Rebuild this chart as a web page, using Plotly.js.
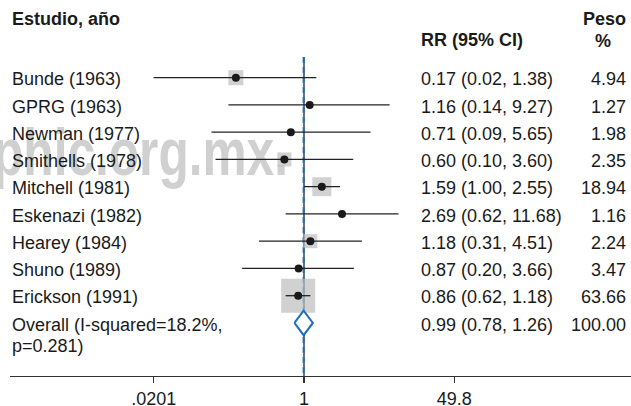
<!DOCTYPE html>
<html>
<head>
<meta charset="utf-8">
<script src="https://cdn.plot.ly/plotly-3.0.1.min.js"></script>
<style>html,body{margin:0;padding:0;background:#fff;}#chart{width:631px;height:406px;}</style>
</head>
<body>
<div id="chart"></div>
<script>
// ---- data ----
const studies = ["Bunde (1963)", "GPRG (1963)", "Newman (1977)", "Smithells (1978)", "Mitchell (1981)",
                 "Eskenazi (1982)", "Hearey (1984)", "Shuno (1989)", "Erickson (1991)"];
const rr      = [0.17, 1.16, 0.71, 0.60, 1.59, 2.69, 1.18, 0.87, 0.86];
const ciLow   = [0.02, 0.14, 0.09, 0.10, 1.00, 0.62, 0.31, 0.20, 0.62];
const ciHigh  = [1.38, 9.27, 5.65, 3.60, 2.55, 11.68, 4.51, 3.66, 1.18];
const weights = [4.94, 1.27, 1.98, 2.35, 18.94, 1.16, 2.24, 3.47, 63.66];
const overallRR = 0.99, overallLow = 0.78, overallHigh = 1.26, overallWeight = 100.00;
const overallLabel = ["Overall (I-squared=18.2%,", "p=0.281)"];
const tickVals = [0.0201, 1, 49.8];
const tickText = [".0201", "1", "49.8"];
const headers = {study: "Estudio, año", ci: "RR (95% CI)", weight1: "Peso", weight2: "%"};
const watermark = "phic.org.mx.";

// ---- style ----
const boxPx = [15, 0, 0, 14, 19, 0, 14, 0, 34];   // drawn box sizes (px)
const txt = "#1a1a1a";
const blue = "#1b6fc0";
const font = "Liberation Sans, Arial, sans-serif";
const fs = 18;
const W = 631, L = 10;
const px = p => (p - L) / (W - L);   // pixel -> paper x

const rows = studies.map((_, i) => i);
const nRows = studies.length;          // overall row index
const yTop = -0.76, yBottom = 10.947;

// CI segments
const segX = [], segY = [];
rows.forEach(i => { segX.push(ciLow[i], ciHigh[i], null); segY.push(i, i, null); });

const traces = [
  {x: [1, 1], y: [yTop, yBottom], mode: "lines", line: {color: "#333", width: 1.4}, hoverinfo: "skip"},
  {x: [overallRR, overallRR], y: [yTop, yBottom], mode: "lines", line: {color: blue, width: 2, dash: "6px,4px"}, hoverinfo: "skip"},
  {x: rr, y: rows, mode: "markers", marker: {symbol: "square", size: boxPx, color: "#bdbdbd", line: {width: 0}}, hoverinfo: "skip"},
  {x: segX, y: segY, mode: "lines", line: {color: "#222", width: 1.3}, hoverinfo: "skip"},
  {x: rr, y: rows, mode: "markers", marker: {symbol: "circle", size: 8, color: "#1a1a1a"}, hoverinfo: "skip"},
  {x: [overallLow, overallRR, overallHigh, overallRR, overallLow],
   y: [nRows, nRows - 0.45, nRows, nRows + 0.45, nRows],
   mode: "lines", fill: "toself", fillcolor: "#fff", line: {color: blue, width: 2}, hoverinfo: "skip"}
];

const ann = [];
const addText = (text, xp, y, anchor, bold) => ann.push({
  text: bold ? "<b>" + text + "</b>" : text, xref: "paper", yref: "y", x: px(xp), y: y,
  xanchor: anchor, yanchor: "middle", showarrow: false, font: {family: font, size: fs, color: txt}
});
studies.forEach((s, i) => {
  addText(s, 10, i + 0.06, "left");
  addText(rr[i].toFixed(2) + " (" + ciLow[i].toFixed(2) + ", " + ciHigh[i].toFixed(2) + ")", 419, i + 0.06, "left");
  addText(weights[i].toFixed(2), 628, i + 0.06, "right");
});
addText(overallLabel[0], 10, nRows + 0.09, "left");
addText(overallLabel[1], 10, nRows + 0.86, "left");
addText(overallRR.toFixed(2) + " (" + overallLow.toFixed(2) + ", " + overallHigh.toFixed(2) + ")", 419, nRows + 0.06, "left");
addText(overallWeight.toFixed(2), 628, nRows + 0.06, "right");
addText(headers.study, 10, -2.14, "left", true);
addText(headers.ci, 419, -1.38, "left", true);
addText(headers.weight1, 628, -2.14, "right", true);
addText(headers.weight2, 603, -1.36, "center", true);

const layout = {
  width: 631, height: 406,
  margin: {l: L, r: 0, t: 0, b: 30},
  paper_bgcolor: "#fff", plot_bgcolor: "#fff",
  showlegend: false,
  xaxis: {type: "log", range: [-3.322, 3.695], showgrid: false, zeroline: false,
          showline: true, linecolor: "#333", linewidth: 1.4,
          tickmode: "array", tickvals: tickVals, ticktext: tickText,
          ticks: "outside", ticklen: 6, tickwidth: 1.3, tickcolor: "#333",
          tickfont: {family: font, size: fs, color: txt}},
  yaxis: {range: [yBottom, yTop - 2.091], visible: false, showgrid: false, zeroline: false},
  annotations: ann,
  shapes: [{type: "rect", xref: "paper", yref: "paper", x0: px(-5), x1: px(289), y0: 0.56, y1: 0.64,
            layer: "below", line: {width: 0}, fillcolor: "rgba(0,0,0,0)",
            label: {text: watermark, textposition: "middle center",
                    font: {family: font, size: 49, color: "#d0d0d0", weight: "bold"}}}]
};

Plotly.newPlot("chart", traces, layout, {staticPlot: true, displayModeBar: false}).then(() => {
  // stretch the faint watermark vertically as in the source image
  const t = Array.from(document.querySelectorAll("#chart text")).find(e => e.textContent === watermark);
  if (!t) return;
  const b = t.getBBox();
  const m = t.parentNode.getCTM();
  const tL = -7, tR = 288, tT = 115, tB = 189;
  const sx = (tR - tL) / b.width, sy = (tB - tT) / b.height;
  t.setAttribute("transform",
    "translate(" + (tL - m.e) + "," + (tT - m.f) + ") scale(" + sx + "," + sy + ") translate(" + (-b.x) + "," + (-b.y) + ")");
});
</script>
</body>
</html>
